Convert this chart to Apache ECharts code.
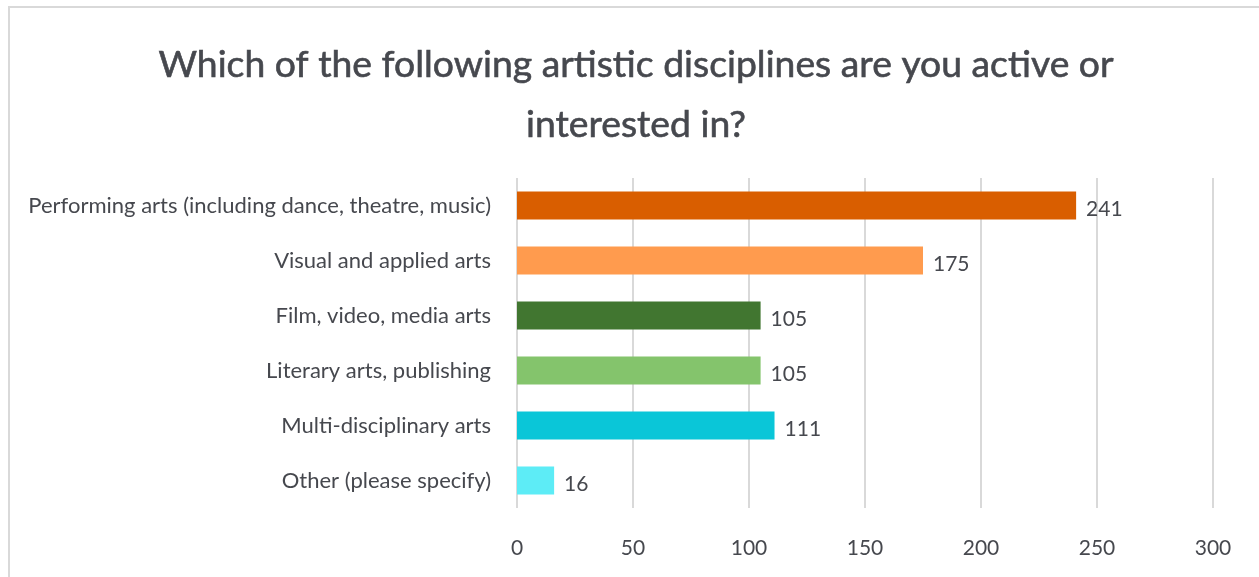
<!DOCTYPE html>
<html>
<head>
<meta charset="utf-8">
<script src="https://cdn.jsdelivr.net/npm/echarts@6/dist/echarts.min.js"></script>
<style>
  html, body { margin: 0; padding: 0; background: #ffffff; }
  #frame {
    position: absolute; left: 8px; top: 6px; width: 1251px; height: 571px;
    border-top: 2px solid #d9d9d9; border-left: 2px solid #d9d9d9; box-sizing: border-box;
  }
  #chart { position: absolute; left: 0; top: 0; width: 1259px; height: 577px; }
</style>
</head>
<body>
<div id="frame"></div>
<div id="chart"></div>
<script>
// Survey responses per artistic discipline
const titleText = 'Which of the following artistic disciplines are you active or\ninterested in?';
const categories = [
  'Performing arts (including dance, theatre, music)',
  'Visual and applied arts',
  'Film, video, media arts',
  'Literary arts, publishing',
  'Multi-disciplinary arts',
  'Other (please specify)'
];
const counts = [241, 175, 105, 105, 111, 16];
const barColors = ['#d95e00', '#ff9b4e', '#417630', '#84c46c', '#0ac6d8', '#5decf6'];
const xTicks = { min: 0, max: 300, interval: 50 };

const font = 'Lato, "Noto Sans", sans-serif';
const textColor = '#46484e';
const chart = echarts.init(document.getElementById('chart'));
chart.setOption({
  animation: false,
  title: {
    text: titleText,
    left: 631,
    textAlign: 'center',
    top: 30,
    textStyle: {
      fontFamily: font, fontSize: 37.3, fontWeight: 'normal', color: textColor, lineHeight: 60,
      textBorderColor: textColor, textBorderWidth: 0.6
    }
  },
  grid: { left: 517, right: 46, top: 178, bottom: 69, containLabel: false },
  xAxis: {
    type: 'value',
    min: xTicks.min, max: xTicks.max, interval: xTicks.interval,
    axisLine: { show: false },
    axisTick: { show: false },
    axisLabel: { fontFamily: font, fontSize: 21, color: textColor, margin: 30 },
    splitLine: { lineStyle: { color: '#d9d9d9', width: 2 } }
  },
  yAxis: {
    type: 'category',
    inverse: true,
    data: categories,
    axisLine: { show: false },
    axisTick: { show: false },
    axisLabel: { fontFamily: font, fontSize: 22, color: textColor, margin: 26 }
  },
  series: [{
    type: 'bar',
    data: counts.map((v, i) => ({ value: v, itemStyle: { color: barColors[i] } })),
    barWidth: '51%',
    label: {
      show: true, position: 'right', distance: 10, offset: [0, 4],
      fontFamily: font, fontSize: 21, color: textColor
    }
  }]
});
</script>
</body>
</html>
